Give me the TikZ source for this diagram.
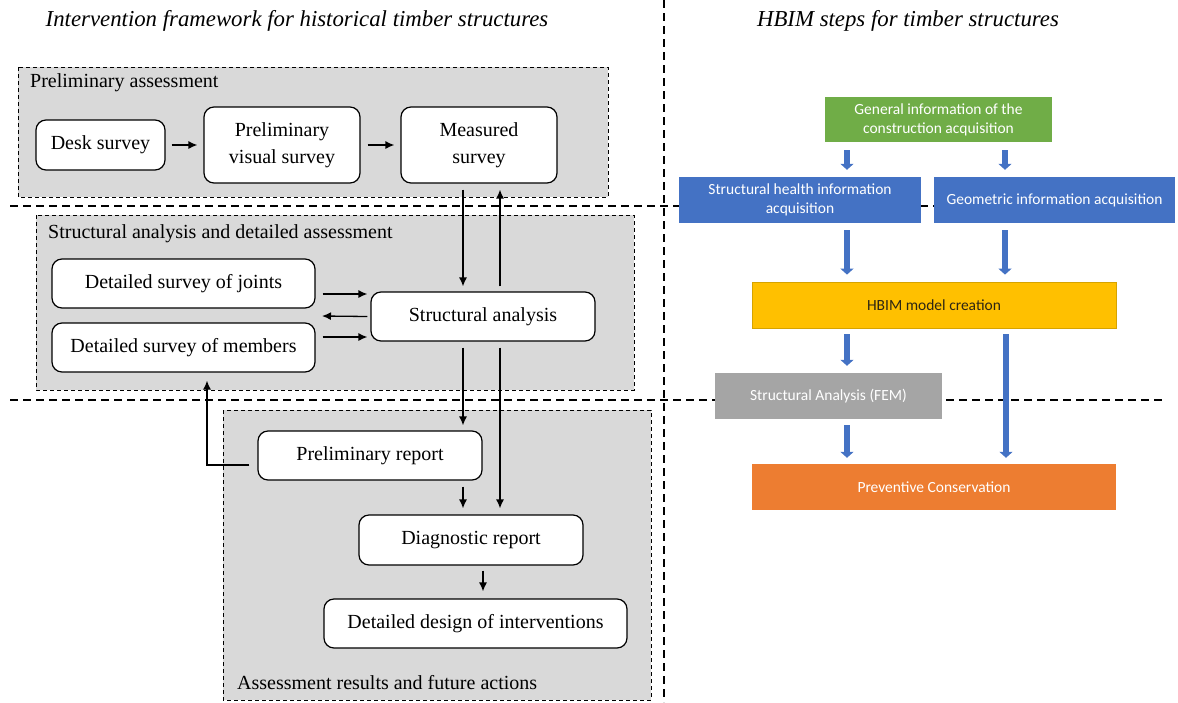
\documentclass[tikz,border=0pt]{standalone}
\usepackage{fontspec}
\setmainfont{Liberation Serif}
\newfontfamily\calibri{Carlito}
\usepackage{tikz}
\usetikzlibrary{positioning, arrows.meta}
\definecolor{pannello}{HTML}{D9D9D9}
\definecolor{verde}{HTML}{70AD47}
\definecolor{blu}{HTML}{4472C4}
\definecolor{giallo}{HTML}{FFC000}
\definecolor{grigio}{HTML}{A5A5A5}
\definecolor{arancio}{HTML}{ED7D31}

\begin{document}
\begin{tikzpicture}[x=1pt, y=-1pt, >={Latex[length=9pt,width=8pt]}]
    % Stili
    \tikzstyle{block} = [draw, line width=1.2pt, rounded corners=10pt, fill=white, align=center, inner sep=2pt, font=\fontsize{20}{27}\selectfont]
    \tikzstyle{panel} = [draw, dash pattern=on 4pt off 3pt, line width=0.9pt, fill=pannello]
    \tikzstyle{label} = [anchor=west, inner sep=0pt, font=\fontsize{20}{24}\selectfont]
    \tikzstyle{sep} = [line width=1.6pt, dash pattern=on 8pt off 5pt]
    \tikzstyle{freccia} = [->, line width=1.3pt]
    \tikzstyle{hbimbox} = [align=center, inner sep=2pt, text=white, font=\calibri\fontsize{15.5}{19}\selectfont]
    \tikzstyle{bluarrow} = [-{Triangle[length=6pt,width=13pt]}, line width=5.5pt, draw=blu]

    \useasboundingbox (0,0) rectangle (1178,702);

    % Separatori
    \draw[sep] (664,0) -- (664,702);
    \draw[sep] (10,206) -- (1170,206);
    \draw[sep] (10,400) -- (1165,400);

    % Titoli
    \node[font=\fontsize{22.8}{27}\selectfont\itshape] (titolo1) at (297,21) {Intervention framework for historical timber structures};
    \node[font=\fontsize{22.8}{27}\selectfont\itshape] (titolo2) at (908,21) {HBIM steps for timber structures};

    % Pannelli
    \draw[panel] (18,67) rectangle (608,197);
    \draw[panel] (36,215) rectangle (634,390);
    \draw[panel] (223,410) rectangle (651,700);
    \node[label] (lab1) at (30,83) {Preliminary assessment};
    \node[label] (lab2) at (48,234) {Structural analysis and detailed assessment};
    \node[label] (lab3) at (237,683) {Assessment results and future actions};

    % Nodi
    \node[block, minimum width=129pt, minimum height=50pt] (desk) at (100.5,145) {Desk survey};
    \node[block, minimum width=156pt, minimum height=76pt] (pvis) at (282,145) {Preliminary\\visual survey};
    \node[block, minimum width=156pt, minimum height=76pt] (meas) at (479,145) {Measured\\survey};
    \node[block, minimum width=263pt, minimum height=49pt] (joints) at (183.5,283.5) {Detailed survey of joints};
    \node[block, minimum width=263pt, minimum height=49pt] (members) at (183.5,347.5) {Detailed survey of members};
    \node[block, minimum width=224pt, minimum height=49pt] (sa) at (483,316.5) {Structural analysis};
    \node[block, minimum width=224pt, minimum height=49pt] (prep) at (370,455.5) {Preliminary report};
    \node[block, minimum width=224pt, minimum height=50pt] (drep) at (471,540) {Diagnostic report};
    \node[block, minimum width=303pt, minimum height=49pt] (design) at (475.5,623.5) {Detailed design of interventions};
    \coordinate (ritorno) at (322,316);

    % Collegamenti
    \draw[freccia] ([xshift=6pt]desk.east) -- ([xshift=-6pt]pvis.west);
    \draw[freccia] ([xshift=7pt]pvis.east) -- ([xshift=-6pt]meas.west);
    \draw[freccia] ([xshift=-16pt,yshift=-6pt]meas.south) -- ([xshift=-20pt,yshift=5pt]sa.north);
    \draw[freccia] ([xshift=17pt,yshift=5pt]sa.north) -- ([xshift=21pt,yshift=-6pt]meas.south);
    \draw[freccia] ([xshift=7pt,yshift=-10.5pt]joints.east) -- ([xshift=-3pt,yshift=22.5pt]sa.west);
    \draw[freccia] ([xshift=-3pt]sa.west) -- (ritorno);
    \draw[freccia] ([xshift=7pt,yshift=10.5pt]members.east) -- ([xshift=-3pt,yshift=-20.5pt]sa.west);
    \draw[freccia] ([xshift=-20pt,yshift=-6pt]sa.south) -- ([xshift=93pt,yshift=5pt]prep.north);
    \draw[freccia] ([xshift=17pt,yshift=-6pt]sa.south) -- ([xshift=29pt,yshift=6pt]drep.north);
    \draw[freccia] ([xshift=93pt,yshift=-6pt]prep.south) -- ([xshift=-8pt,yshift=6pt]drep.north);
    \draw[freccia] ([xshift=12pt,yshift=-5pt]drep.south) -- ([xshift=7.5pt,yshift=7pt]design.north);
    % Feedback
    \draw[freccia] ([xshift=-8pt,yshift=-9.5pt]prep.west) -| ([xshift=23.5pt,yshift=-8pt]members.south);

    % HBIM
    \node[hbimbox, fill=verde, minimum width=227pt, minimum height=45pt] (gen) at (938.5,119.5) {General information of the\\construction acquisition};
    \node[hbimbox, fill=blu, minimum width=242pt, minimum height=46pt] (shi) at (800,200) {Structural health information\\acquisition};
    \node[hbimbox, fill=blu, minimum width=241pt, minimum height=46pt] (geo) at (1054.5,200) {Geometric information acquisition};
    \node[hbimbox, fill=giallo, draw={rgb,255:red,214;green,163;blue,0}, line width=0.8pt, text={rgb,255:red,45;green,38;blue,20}, minimum width=364pt, minimum height=46pt] (hbim) at (934,305) {HBIM model creation};
    \node[hbimbox, fill=grigio, minimum width=227pt, minimum height=46pt] (fem) at (828.5,396) {Structural Analysis (FEM)};
    \node[hbimbox, fill=arancio, minimum width=364pt, minimum height=46pt] (prev) at (934,487) {Preventive Conservation};

    \draw[bluarrow] ([xshift=-91.5pt,yshift=-8pt]gen.south) -- ([xshift=47pt,yshift=7pt]shi.north);
    \draw[bluarrow] ([xshift=66.5pt,yshift=-8pt]gen.south) -- ([xshift=-49.5pt,yshift=7pt]geo.north);
    \draw[bluarrow] ([xshift=47pt,yshift=-7pt]shi.south) -- ([xshift=-87pt,yshift=7pt]hbim.north);
    \draw[bluarrow] ([xshift=-49.5pt,yshift=-7pt]geo.south) -- ([xshift=71pt,yshift=7pt]hbim.north);
    \draw[bluarrow] ([xshift=-87pt,yshift=-6pt]hbim.south) -- ([xshift=18.5pt,yshift=7pt]fem.north);
    \draw[bluarrow] ([xshift=72pt,yshift=-6pt]hbim.south) -- ([xshift=72pt,yshift=6pt]prev.north);
    \draw[bluarrow] ([xshift=18.5pt,yshift=-6pt]fem.south) -- ([xshift=-87pt,yshift=6pt]prev.north);

\end{tikzpicture}
\end{document}
